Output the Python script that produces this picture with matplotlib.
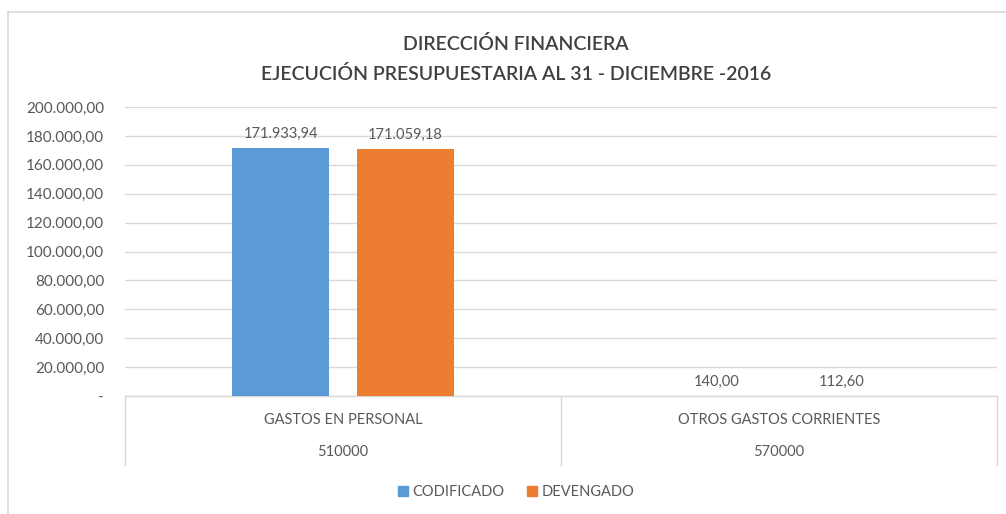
import matplotlib.pyplot as plt
import matplotlib.transforms as mtransforms
from matplotlib.lines import Line2D
from matplotlib.patches import Patch
import numpy as np

# data
categories = ['GASTOS EN PERSONAL', 'OTROS GASTOS CORRIENTES']
codes = ['510000', '570000']
series_names = ['CODIFICADO', 'DEVENGADO']
codificado = [171933.94, 140.00]
devengado = [171059.18, 112.60]
yticks = [0, 20000, 40000, 60000, 80000, 100000, 120000, 140000, 160000, 180000, 200000]

BLUE = '#5b9bd5'
ORANGE = '#ed7d31'
GRID = '#d9d9d9'
TXT = '#595959'
FONT = 'Lato'


def fmt_es(v):
    # spanish number format: 171.933,94
    s = '{:,.2f}'.format(v)
    return s.replace(',', 'X').replace('.', ',').replace('X', '.')


W, H = 1006, 514
fig = plt.figure(figsize=(W / 100, H / 100), dpi=100)
plt.rcParams['font.family'] = FONT

# axes placed in pixel coords of the reference
left, right, top, zero = 125, 997, 107, 396
ax = fig.add_axes([left / W, (H - zero) / H, (right - left) / W, (zero - top) / H])

x = np.arange(len(categories))
bw = 0.224
off = 0.143
b1 = ax.bar(x - off, codificado, bw, color=BLUE, zorder=3)
b2 = ax.bar(x + off, devengado, bw, color=ORANGE, zorder=3)

for bars in (b1, b2):
    for r in bars:
        ax.annotate(fmt_es(r.get_height()), (r.get_x() + r.get_width() / 2, r.get_height()),
                    xytext=(0, 5), textcoords='offset points', ha='center', va='bottom',
                    fontsize=10.5, color=TXT)

ax.set_xlim(-0.5, len(categories) - 0.5)
ax.set_ylim(0, 200000)
ax.set_yticks(yticks)
ax.set_yticklabels(['-'] + [fmt_es(v) for v in yticks[1:]], fontsize=11, color=TXT)
ax.tick_params(axis='y', length=0, pad=15)
ax.tick_params(axis='x', length=0, labelbottom=False)
ax.grid(axis='y', color=GRID, lw=1, zorder=0)
for s in ax.spines.values():
    s.set_visible(False)

# two-level category axis
tr = mtransforms.blended_transform_factory(ax.transData, ax.transAxes)
px = 1.0 / (zero - top)
ax.add_line(Line2D([-0.5, len(categories) - 0.5], [0, 0], transform=tr, color=GRID, lw=1, clip_on=False))
for xv in np.arange(len(categories) + 1) - 0.5:
    ax.add_line(Line2D([xv, xv], [0, -69 * px], transform=tr, color=GRID, lw=1, clip_on=False))
for i in range(len(categories)):
    ax.text(x[i], -24 * px, categories[i], transform=tr, ha='center', va='center', fontsize=10.5, color=TXT)
    ax.text(x[i], -56 * px, codes[i], transform=tr, ha='center', va='center', fontsize=10.5, color=TXT)

# title
fig.text(0.513, 1 - 44 / H, 'DIRECCIÓN FINANCIERA', ha='center', va='center', fontsize=14,
         fontweight='semibold', color='#404040')
fig.text(0.513, 1 - 74 / H, 'EJECUCIÓN PRESUPUESTARIA AL 31 - DICIEMBRE -2016', ha='center', va='center',
         fontsize=14, fontweight='semibold', color='#404040')

# legend
handles = [Patch(color=BLUE), Patch(color=ORANGE)]
fig.legend(handles, series_names, loc='center', bbox_to_anchor=(0.513, 1 - 492 / H), ncol=2, frameon=False,
           fontsize=10.5, labelcolor=TXT, handlelength=0.7, handleheight=0.7, handletextpad=0.3, columnspacing=1.5)

# chart border (top and left visible)
fig.add_artist(Line2D([8 / W, 1], [1 - 12 / H, 1 - 12 / H], transform=fig.transFigure, color=GRID, lw=1.2))
fig.add_artist(Line2D([8 / W, 8 / W], [0, 1 - 12 / H], transform=fig.transFigure, color=GRID, lw=1.2))

fig.savefig('out.png', dpi=100)
